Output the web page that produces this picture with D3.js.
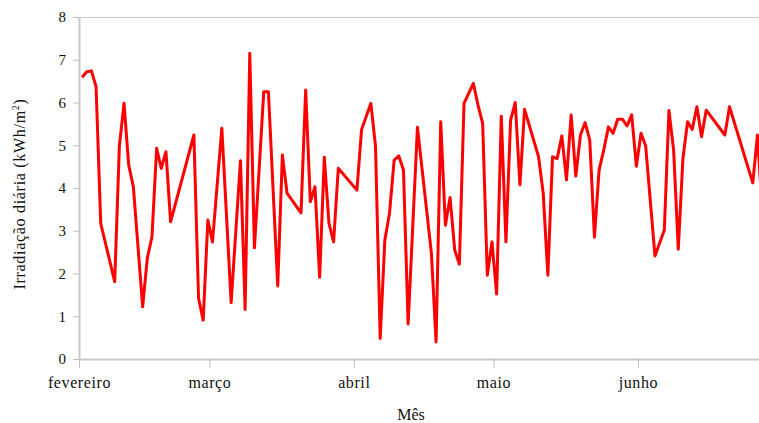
<!DOCTYPE html>
<html>
<head>
<meta charset="utf-8">
<script src="https://cdn.jsdelivr.net/npm/d3@7"></script>
<style>
  body { margin: 0; background: #fff; }
  svg { display: block; }
  svg text { font-family: "Liberation Serif", "Times New Roman", serif; }
</style>
</head>
<body>
<svg></svg>
<script>
// daily irradiation, date (2015) and value in kWh/m2
const days = [
  '02-01','02-02','02-03','02-04','02-05','02-08','02-09','02-10','02-11','02-12',
  '02-14','02-15','02-16','02-17','02-18','02-19','02-20','02-25','02-26','02-27',
  '02-28','03-01','03-03','03-05','03-07','03-08','03-09','03-10','03-12','03-13',
  '03-15','03-16','03-17','03-20','03-21','03-22','03-23','03-24','03-25','03-26',
  '03-27','03-28','04-01','04-02','04-04','04-05','04-06','04-07','04-08','04-09',
  '04-10','04-11','04-12','04-14','04-17','04-18','04-19','04-20','04-21','04-22',
  '04-23','04-24','04-26','04-27','04-28','04-29','04-30','05-01','05-02','05-03',
  '05-04','05-05','05-06','05-07','05-10','05-11','05-12','05-13','05-14','05-15',
  '05-16','05-17','05-18','05-19','05-20','05-21','05-22','05-23','05-24','05-25',
  '05-26','05-27','05-28','05-29','05-30','05-31','06-01','06-02','06-04','06-06',
  '06-07','06-08','06-09','06-10','06-11','06-12','06-13','06-14','06-15','06-19',
  '06-20','06-25','06-26','06-27'
]
const values = [
  6.59, 6.72, 6.74, 6.37, 3.17, 1.81, 4.98, 5.98, 4.54, 4.03,
  1.22, 2.36, 2.86, 4.93, 4.46, 4.85, 3.21, 5.24, 1.42, 0.91,
  3.25, 2.74, 5.40, 1.32, 4.64, 1.16, 7.15, 2.60, 6.25, 6.25,
  1.71, 4.77, 3.88, 3.42, 6.29, 3.68, 4.03, 1.91, 4.72, 3.17,
  2.74, 4.46, 3.95, 5.36, 5.98, 4.97, 0.48, 2.78, 3.41, 4.65,
  4.75, 4.42, 0.82, 5.42, 2.47, 0.40, 5.55, 3.13, 3.78, 2.55,
  2.22, 5.98, 6.45, 5.94, 5.51, 1.96, 2.74, 1.52, 5.68, 2.74,
  5.59, 6.00, 4.07, 5.84, 4.73, 3.88, 1.96, 4.73, 4.69, 5.22,
  4.19, 5.71, 4.28, 5.24, 5.53, 5.12, 2.85, 4.42, 4.89, 5.43,
  5.28, 5.61, 5.61, 5.45, 5.71, 4.51, 5.28, 4.98, 2.41, 3.02,
  5.81, 4.89, 2.57, 4.69, 5.55, 5.37, 5.90, 5.20, 5.82, 5.24,
  5.90, 4.12, 5.24, 3.50
]
const monthTicks = ['2015-02-01', '2015-03-01', '2015-04-01', '2015-05-01', '2015-06-01']
const monthLabels = ['fevereiro', 'março', 'abril', 'maio', 'junho']
const yTicks = [0, 1, 2, 3, 4, 5, 6, 7, 8]

let width = 759
let height = 423
let mLeft = 79, mRight = 759, mTop = 17, mBottom = 359

let svg = d3.select('svg')
svg.attr('width', width).attr('height', height)

let parse = d3.timeParse('%Y-%m-%dT%H:%M')
let data = days.map((d, i) => ({ date: parse('2015-' + d + 'T16:00'), value: values[i] }))

let xScale = d3.scaleTime()
    .domain([new Date(2015, 1, 1), new Date(2015, 5, 27)])
    .range([mLeft, mRight])

let yScale = d3.scaleLinear()
    .domain([0, 8])
    .range([mBottom, mTop])

// frame line at the top
svg.append('line')
    .attr('x1', mLeft).attr('x2', mRight)
    .attr('y1', mTop + 0.5).attr('y2', mTop + 0.5)
    .attr('stroke', '#c8c8c8')

// x axis
let xAxis = d3.axisBottom(xScale)
    .tickValues(monthTicks.map(d => new Date(d + 'T00:00')))
    .tickFormat((d, i) => monthLabels[i])
    .tickSizeInner(9)
    .tickSizeOuter(0)
    .tickPadding(9)

let gx = svg.append('g')
    .attr('transform', 'translate(0,' + mBottom + ')')
    .call(xAxis)
gx.select('.domain').attr('stroke', '#c8c8c8').attr('stroke-width', 2)
gx.selectAll('.tick line').attr('stroke', '#c0c0c0')
gx.selectAll('.tick text')
    .attr('fill', '#111')
    .style('font-size', '16px')
    .style('letter-spacing', '0.6px')

// y axis
let yAxis = d3.axisLeft(yScale)
    .tickValues(yTicks)
    .tickSizeInner(6)
    .tickSizeOuter(0)
    .tickPadding(7)

let gy = svg.append('g')
    .attr('transform', 'translate(' + mLeft + ',0)')
    .call(yAxis)
gy.select('.domain').attr('stroke', '#c8c8c8').attr('stroke-width', 2)
gy.selectAll('.tick line').attr('stroke', '#c0c0c0')
gy.selectAll('.tick text')
    .attr('fill', '#111')
    .style('font-size', '15px')

// axis titles
svg.append('text')
    .attr('x', 411)
    .attr('y', 420)
    .attr('text-anchor', 'middle')
    .style('font-size', '16px')
    .attr('fill', '#111')
    .text('Mês')

let yTitle = svg.append('text')
    .attr('transform', 'translate(25,194) rotate(-90)')
    .attr('text-anchor', 'middle')
    .style('font-size', '16px')
    .style('letter-spacing', '0.7px')
    .attr('fill', '#111')
yTitle.append('tspan').text('Irradiação diária (kWh/m')
yTitle.append('tspan').attr('dy', -6).style('font-size', '10px').text('2')
yTitle.append('tspan').attr('dy', 6).text(')')

// clip the line to the plot area
svg.append('clipPath')
    .attr('id', 'plot')
    .append('rect')
    .attr('x', mLeft).attr('y', 0)
    .attr('width', mRight - mLeft).attr('height', height)

let line = d3.line()
    .x(d => xScale(d.date))
    .y(d => yScale(d.value))

svg.append('path')
    .datum(data)
    .attr('clip-path', 'url(#plot)')
    .attr('fill', 'none')
    .attr('stroke', '#ff0000')
    .attr('stroke-width', 3)
    .attr('stroke-linejoin', 'round')
    .attr('d', line)
</script>
</body>
</html>
